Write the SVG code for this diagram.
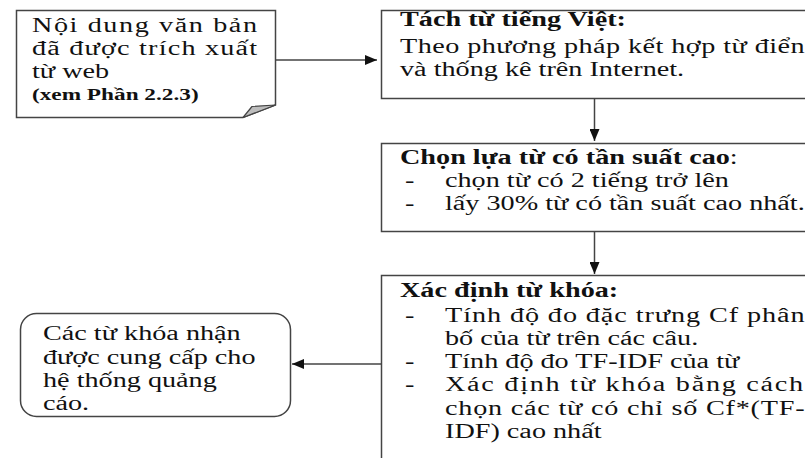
<svg xmlns="http://www.w3.org/2000/svg" width="805" height="458" viewBox="0 0 805 458">
  <defs>
    <style>
      .box { fill: #ffffff; stroke: #444444; stroke-width: 1.5; }
      .flap { fill: #bdbdbd; stroke: #444444; stroke-width: 1.2; stroke-linejoin: round; }
      .edge { fill: none; stroke: #444444; stroke-width: 1.5; }
      .t { font-family: "Liberation Serif", "Times New Roman", "DejaVu Serif", serif; font-size: 20px; fill: #111; }
      .b { font-weight: bold; }
      .n { font-weight: normal; }
      .s { font-size: 16.5px; }
    </style>
    <marker id="arrow" viewBox="0 0 12 10" refX="12" refY="5" markerWidth="12" markerHeight="10" markerUnits="userSpaceOnUse" orient="auto">
      <path d="M0,0 L12,5 L0,10 Z" fill="#111"/>
    </marker>
  </defs>

  <!-- Source document (note shape with folded corner) -->
  <g id="source">
    <path class="box" d="M16.5,10.5 H275.5 V105 L243,117.5 H16.5 Z"/>
    <path class="flap" d="M243,117.5 L252,106.5 L275.5,105 Z"/>
    <text class="t" transform="translate(32 32) scale(1.41 1)" textLength="159.6" lengthAdjust="spacing">Nội dung văn bản</text>
    <text class="t" transform="translate(32 55) scale(1.41 1)" textLength="159.6" lengthAdjust="spacing">đã được trích xuất</text>
    <text class="t" transform="translate(32 78) scale(1.41 1)">từ web</text>
    <text class="t b s" transform="translate(32 100) scale(1.41 1)">(xem Phần 2.2.3)</text>
  </g>

  <!-- Word segmentation -->
  <g id="segment">
    <rect class="box" x="381.5" y="10.5" width="440" height="88"/>
    <text class="t b" transform="translate(400 26) scale(1.41 1)">Tách từ tiếng Việt:</text>
    <text class="t" transform="translate(400 53) scale(1.41 1)" textLength="287" lengthAdjust="spacing">Theo phương pháp kết hợp từ điển</text>
    <text class="t" transform="translate(400 76) scale(1.41 1)">và thống kê trên Internet.</text>
  </g>

  <!-- Frequent word selection -->
  <g id="select">
    <rect class="box" x="381.5" y="143.5" width="440" height="88"/>
    <text class="t b" transform="translate(400 164) scale(1.41 1)">Chọn lựa từ có tần suất cao<tspan class="n">:</tspan></text>
    <text class="t" transform="translate(405 187) scale(1.41 1)">-</text>
    <text class="t" transform="translate(445 187) scale(1.41 1)">chọn từ có 2 tiếng trở lên</text>
    <text class="t" transform="translate(405 210) scale(1.41 1)">-</text>
    <text class="t" transform="translate(445 210) scale(1.41 1)">lấy 30% từ có tần suất cao nhất.</text>
  </g>

  <!-- Keyword extraction -->
  <g id="keywords">
    <rect class="box" x="381.5" y="275.5" width="440" height="200"/>
    <text class="t b" transform="translate(400 297) scale(1.41 1)">Xác định từ khóa:</text>
    <text class="t" transform="translate(405 322) scale(1.41 1)">-</text>
    <text class="t" transform="translate(445 322) scale(1.41 1)" textLength="255" lengthAdjust="spacing">Tính độ đo đặc trưng Cf phân</text>
    <text class="t" transform="translate(445 345) scale(1.41 1)">bố của từ trên các câu.</text>
    <text class="t" transform="translate(405 368) scale(1.41 1)">-</text>
    <text class="t" transform="translate(445 368) scale(1.41 1)">Tính độ đo TF-IDF của từ</text>
    <text class="t" transform="translate(405 391) scale(1.41 1)">-</text>
    <text class="t" transform="translate(445 391) scale(1.41 1)" textLength="254" lengthAdjust="spacing">Xác định từ khóa bằng cách</text>
    <text class="t" transform="translate(445 415) scale(1.41 1)" textLength="255" lengthAdjust="spacing">chọn các từ có chỉ số Cf*(TF-</text>
    <text class="t" transform="translate(445 438) scale(1.41 1)">IDF) cao nhất</text>
  </g>

  <!-- Output to the advertising system -->
  <g id="output">
    <rect class="box" x="20.5" y="313.5" width="270" height="103" rx="16" ry="16"/>
    <text class="t" transform="translate(43 340) scale(1.41 1)">Các từ khóa nhận</text>
    <text class="t" transform="translate(43 363.5) scale(1.41 1)">được cung cấp cho</text>
    <text class="t" transform="translate(43 387) scale(1.41 1)">hệ thống quảng</text>
    <text class="t" transform="translate(43 410) scale(1.41 1)">cáo.</text>
  </g>

  <!-- Connectors -->
  <g id="connectors">
    <line class="edge" x1="275.5" y1="60" x2="377" y2="60" marker-end="url(#arrow)"/>
    <line class="edge" x1="594.5" y1="99" x2="594.5" y2="141" marker-end="url(#arrow)"/>
    <line class="edge" x1="594.5" y1="232" x2="594.5" y2="274" marker-end="url(#arrow)"/>
    <line class="edge" x1="381.5" y1="364" x2="292" y2="364" marker-end="url(#arrow)"/>
  </g>
</svg>
